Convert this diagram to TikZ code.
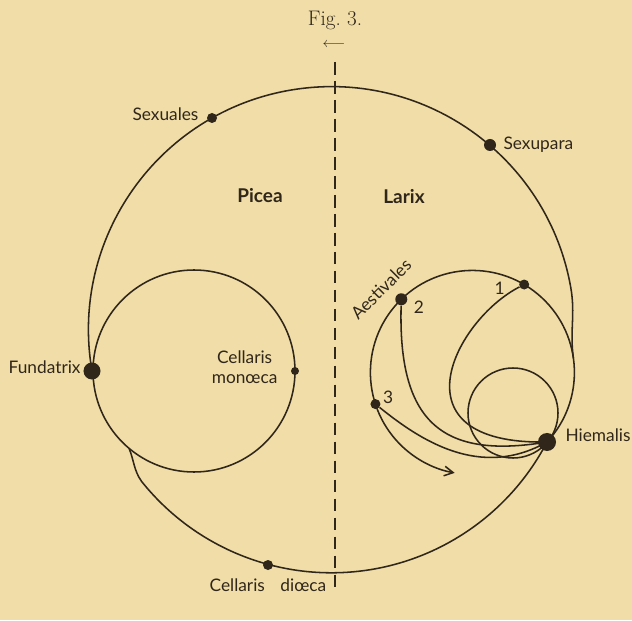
\documentclass[tikz,border=0pt]{standalone}
\usepackage{fontspec}
\newfontfamily\labelfont{Lato}
\usetikzlibrary{arrows.meta,positioning}
\definecolor{paper}{RGB}{240,221,167}
\definecolor{ink}{RGB}{48,38,26}
\tikzset{
    cycleline/.style={draw=ink, line width=1.1pt},
    spot/.style={circle, fill=ink, inner sep=0pt, minimum size=#1},
    spotlabel/.style={font=\labelfont\fontsize{12.3}{14.5}\selectfont, text=ink, inner sep=0pt, align=center},
    hostlabel/.style={font=\labelfont\bfseries\fontsize{13.5}{16}\selectfont, text=ink, inner sep=0pt},
    divider/.style={draw=ink, line width=1.1pt, dash pattern=on 9pt off 4.5pt}
}
\begin{document}
\begin{tikzpicture}[x=0.025cm, y=0.025cm]
    \fill[paper] (0,0) rectangle (632,620);
    \useasboundingbox (0,0) rectangle (632,620);
    \coordinate (leftc) at (194,249);
    \coordinate (loopc) at (472.4,247.6);
    \coordinate (smallc) at (513,207);
    \coordinate (merge) at ([shift={(8:102)}]loopc);
    \coordinate (branch) at ([shift={(-130:101)}]leftc);
    \coordinate (dtop) at (335,558);
    \coordinate (dbot) at (335,29);
    \node[spot=4.25mm] (fundatrix) at (92,249) {};
    \node[spot=2mm] (monoeca) at (295,249) {};
    \node[spot=2.5mm] (sexuales) at (212,502) {};
    \node[spot=3mm] (sexupara) at (490,475) {};
    \node[spot=2.5mm] (dioeca) at (268,55) {};
    \node[spot=4.5mm] (hiemalis) at (547,178) {};
    \node[spot=2.5mm] (aest1) at ([shift={(59.5:102)}]loopc) {};
    \node[spot=3mm] (aest2) at ([shift={(134.2:102)}]loopc) {};
    \node[spot=2.5mm] (aest3) at ([shift={(198.1:102)}]loopc) {};
    \draw[divider] (dtop) -- (dbot);
    \draw[cycleline] (fundatrix.center) arc[start angle=189.8, end angle=10, radius=243] to[out=-80, in=98] (merge);
    \draw[cycleline] (hiemalis.center) arc[start angle=-27.5, end angle=-141.4, radius=243] to[out=125, in=-68] (branch);
    \draw[cycleline] (leftc) circle[radius=101];
    \draw[cycleline] (smallc) circle[radius=45];
    \draw[cycleline, -{Straight Barb[length=2.2mm, width=2.4mm]}] (hiemalis.center) arc[start angle=-43, end angle=260, radius=102];
    \draw[cycleline] (aest1) .. controls (455,300) and (390,175) .. (hiemalis.center);
    \draw[cycleline] (aest2) .. controls (398,200) and (440,160) .. (hiemalis.center);
    \draw[cycleline] (aest3) .. controls (420,180) and (480,140) .. (hiemalis.center);
    \node[spotlabel, left=2mm of sexuales, yshift=1mm] (sexualestext) {Sexuales};
    \node[spotlabel, right=1.75mm of sexupara] (sexuparatext) {Sexupara};
    \node[spotlabel, left=0.6mm of fundatrix, yshift=1mm] (fundatrixtext) {Fundatrix};
    \node[spotlabel, left=3.25mm of monoeca, yshift=1mm] (monoecatext) {Cellaris\\monœca};
    \node[spotlabel, below=2mm of dioeca] (dioecatext) {Cellaris\hspace{0.9em}diœca};
    \node[spotlabel, right=2.25mm of hiemalis, yshift=1.75mm] (hiemalistext) {Hiemalis};
    \node[spotlabel, left=3.5mm of aest1, yshift=-1mm] (onetext) {1};
    \node[spotlabel, right=1.5mm of aest2, yshift=-2mm] (twotext) {2};
    \node[spotlabel, right=0.5mm of aest3, yshift=1.75mm] (threetext) {3};
    \node[spotlabel, rotate=45] (aestivalestext) at (381,331) {Aestivales};
    \node[hostlabel] (picea) at (260,424) {Picea};
    \node[hostlabel] (larix) at (404,423) {Larix};
    \node[font=\fontsize{15}{18}\selectfont, text=ink] (figtitle) at (335,600) {Fig.\ 3.};
    \node[text=ink, inner sep=0pt] (direction) at (334,575) {$\longleftarrow$};
\end{tikzpicture}
\end{document}
